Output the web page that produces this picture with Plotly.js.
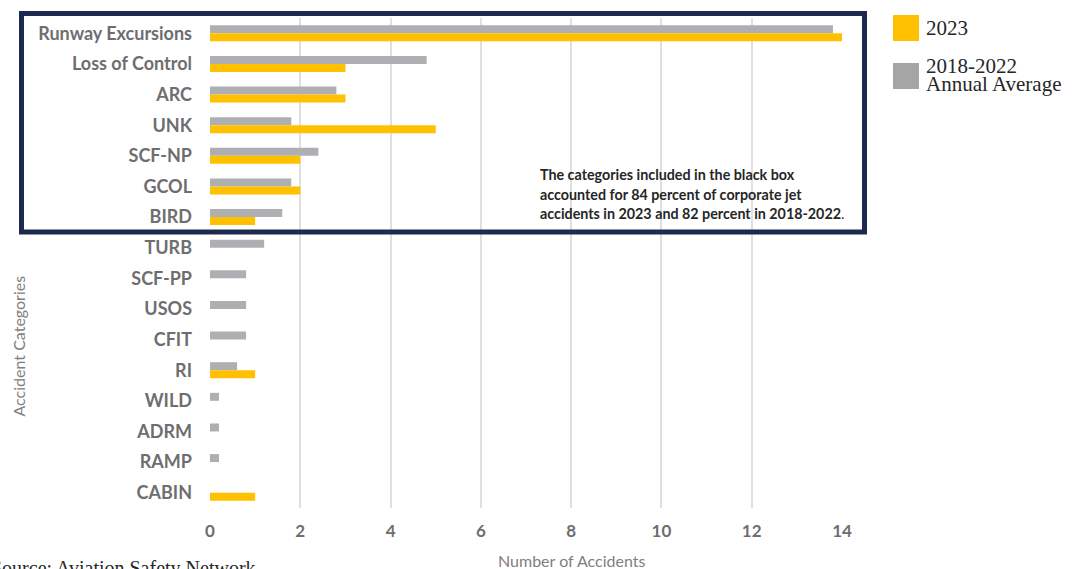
<!DOCTYPE html>
<html>
<head>
<meta charset="utf-8">
<script src="https://cdn.plot.ly/plotly-3.0.1.min.js"></script>
<style>html,body{margin:0;padding:0;background:#fff;}#chart{width:1078px;height:569px;}</style>
</head>
<body>
<div id="chart"></div>
<script>
// ---- data ----
var categories = ["Runway Excursions", "Loss of Control", "ARC", "UNK", "SCF-NP", "GCOL", "BIRD",
  "TURB", "SCF-PP", "USOS", "CFIT", "RI", "WILD", "ADRM", "RAMP", "CABIN"];
var avg2018_2022 = [13.8, 4.8, 2.8, 1.8, 2.4, 1.8, 1.6, 1.2, 0.8, 0.8, 0.8, 0.6, 0.2, 0.2, 0.2, 0];
var acc2023 = [14, 3, 3, 5, 2, 2, 1, 0, 0, 0, 0, 1, 0, 0, 0, 1];
var xTicks = [0, 2, 4, 6, 8, 10, 12, 14];
var seriesNames = ["2023", "2018-2022", "Annual Average"];
var noteLines = ["The categories included in the black box",
  "accounted for 84 percent of corporate jet",
  "accidents in 2023 and 82 percent in 2018-2022"];
var sourceText = "Source: Aviation Safety Network";

// ---- layout helpers (pixel -> paper) ----
var W = 1078, H = 569, ML = 210, MR = 236, MT = 18, MB = 61;
var PW = W - ML - MR, PH = H - MT - MB;
function px(x) { return (x - ML) / PW; }
function py(y) { return (H - MB - y) / PH; }

var YELLOW = "#FFC000", GRAY = "#AEAFB2", NAVY = "#1B2A4E";
var LABEL = "#6E6E70", TITLEC = "#808080";

var traces = [
  { type: "bar", orientation: "h", name: seriesNames[1] + " " + seriesNames[2],
    y: categories, x: avg2018_2022, marker: { color: GRAY }, hoverinfo: "x+y" },
  { type: "bar", orientation: "h", name: seriesNames[0],
    y: categories, x: acc2023, marker: { color: YELLOW }, hoverinfo: "x+y" }
];

var serif = "Liberation Serif, serif";
var annotations = [
  { xref: "paper", yref: "paper", x: px(924), y: py(28), xanchor: "left", yanchor: "middle",
    text: seriesNames[0], showarrow: false, font: { family: serif, size: 21, color: "#262626" } },
  { xref: "paper", yref: "paper", x: px(924), y: py(66.5), xanchor: "left", yanchor: "middle",
    text: seriesNames[1], showarrow: false, font: { family: serif, size: 21, color: "#262626" } },
  { xref: "paper", yref: "paper", x: px(924), y: py(83.5), xanchor: "left", yanchor: "middle",
    text: seriesNames[2], showarrow: false, font: { family: serif, size: 21, color: "#262626" } },
  { xref: "paper", yref: "paper", x: px(571), y: py(560), xanchor: "center", yanchor: "middle",
    text: "Number of Accidents", showarrow: false, font: { family: "Lato", size: 16, color: TITLEC } },
  { xref: "paper", yref: "paper", x: px(17.5), y: py(346), xanchor: "center", yanchor: "middle",
    text: "Accident Categories", textangle: -90, showarrow: false, font: { family: "Lato", size: 16, color: TITLEC } },
  { xref: "paper", yref: "paper", x: px(-11), y: py(555), xanchor: "left", yanchor: "top",
    text: sourceText, showarrow: false, font: { family: serif, size: 20, color: "#262626" } }
];
var noteY = [174, 194, 213.5];
noteLines.forEach(function (t, i) {
  annotations.push({ xref: "paper", yref: "paper", x: px(538), y: py(noteY[i]), xanchor: "left", yanchor: "middle",
    text: "<b>" + t + "</b>" + (i === noteLines.length - 1 ? "." : ""), showarrow: false,
    font: { family: "Lato", size: 14.3, color: "#262626" } });
});

var shapes = [
  { type: "rect", xref: "paper", yref: "paper", x0: px(21.5), x1: px(864.5), y0: py(232), y1: py(13.5),
    line: { color: NAVY, width: 5 }, fillcolor: "rgba(0,0,0,0)", layer: "above" },
  { type: "rect", xref: "paper", yref: "paper", x0: px(893), x1: px(919), y0: py(41), y1: py(15),
    line: { width: 0 }, fillcolor: YELLOW },
  { type: "rect", xref: "paper", yref: "paper", x0: px(893), x1: px(919), y0: py(89), y1: py(63),
    line: { width: 0 }, fillcolor: "#A5A5A5" }
];

var layout = {
  width: W, height: H,
  margin: { l: ML, r: MR, t: MT, b: MB, pad: 0 },
  paper_bgcolor: "#fff", plot_bgcolor: "#fff",
  barmode: "group", bargap: 0.48, bargroupgap: 0,
  showlegend: false,
  xaxis: {
    range: [0, 14], tickvals: xTicks, ticktext: xTicks.map(String),
    showgrid: true, gridcolor: "#E0E0E0", gridwidth: 2, zeroline: false,
    showline: false, ticks: "", ticklabelstandoff: 11,
    tickfont: { family: "Lato", size: 17, color: LABEL, weight: "bold" },
    fixedrange: true
  },
  yaxis: {
    autorange: "reversed", type: "category",
    showgrid: false, zeroline: false, showline: false, ticks: "", ticklabelstandoff: 17,
    tickfont: { family: "Lato", size: 18, color: LABEL, weight: "bold" },
    fixedrange: true
  },
  annotations: annotations,
  shapes: shapes
};

Plotly.newPlot("chart", traces, layout, { displayModeBar: false, staticPlot: true });
</script>
</body>
</html>
